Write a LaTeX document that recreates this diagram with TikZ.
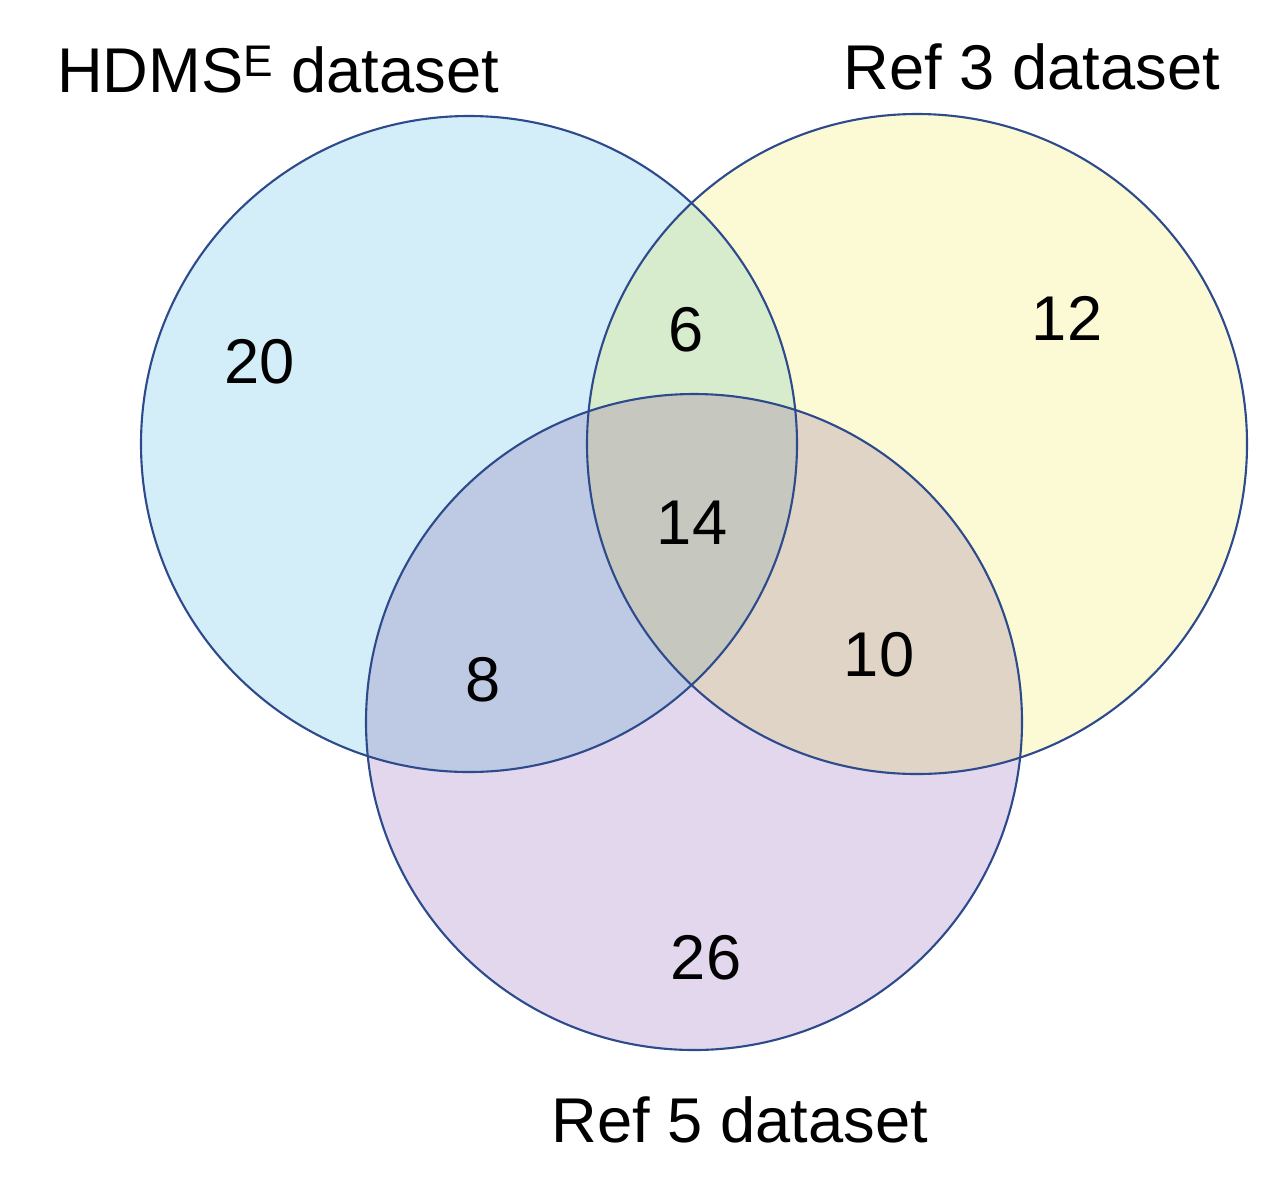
\documentclass[tikz,border=0pt]{standalone}
\usepackage{fontspec}
\setmainfont{Liberation Sans}
\usetikzlibrary{positioning}
\definecolor{setA}{RGB}{211,238,248}
\definecolor{setB}{RGB}{252,250,212}
\definecolor{setC}{RGB}{226,215,236}
\definecolor{setAB}{RGB}{215,235,205}
\definecolor{setAC}{RGB}{190,201,228}
\definecolor{setBC}{RGB}{223,212,198}
\definecolor{setABC}{RGB}{198,200,192}
\definecolor{rim}{RGB}{45,75,140}
\begin{document}
\begin{tikzpicture}[x=0.02cm, y=-0.02cm,
    lbl/.style={font=\fontsize{36}{40}\selectfont, inner sep=0pt},
    rimline/.style={draw=rim, line width=1.2pt}
  ]
  \useasboundingbox (0,0) rectangle (1280,1194);
  \def\cA{(469,444) circle (328)}
  \def\cB{(917,444) circle (330)}
  \def\cC{(694,722) circle (328)}

  % --- fills ---
  \fill[setA] \cA;
  \fill[setB] \cB;
  \fill[setC] \cC;
  \begin{scope} \clip \cA; \fill[setAB] \cB; \end{scope}
  \begin{scope} \clip \cA; \fill[setAC] \cC; \end{scope}
  \begin{scope} \clip \cB; \fill[setBC] \cC; \end{scope}
  \begin{scope} \clip \cA; \clip \cB; \fill[setABC] \cC; \end{scope}

  % --- outlines ---
  \draw[rimline] \cA;
  \draw[rimline] \cB;
  \draw[rimline] \cC;

  % --- set labels ---
  \node[lbl] (hdms) at (278,70)   {HDMS\textsuperscript{E} dataset};
  \node[lbl] (ref3) at (1032,67)  {Ref 3 dataset};
  \node[lbl] (ref5) at (740,1120) {Ref 5 dataset};

  % --- counts ---
  \node[lbl] (nA)   at (260,362)  {20};
  \node[lbl] (nAB)  at (686,330)  {6};
  \node[lbl] (nB)   at (1067,318) {12};
  \node[lbl] (nABC) at (692,523)  {14};
  \node[lbl] (nAC)  at (483,680)  {8};
  \node[lbl] (nBC)  at (879,655)  {10};
  \node[lbl] (nC)   at (706,958)  {26};
\end{tikzpicture}
\end{document}
